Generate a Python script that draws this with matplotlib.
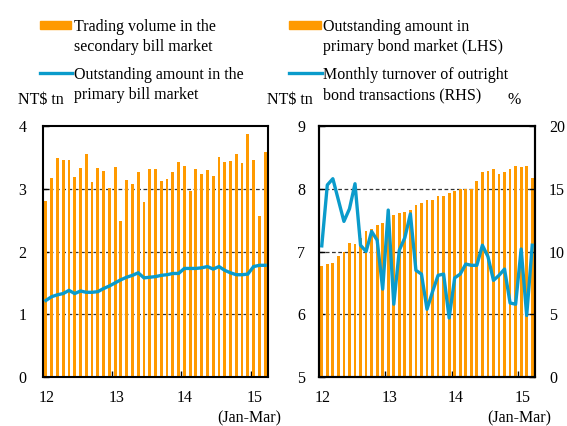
import matplotlib
matplotlib.use("Agg")
import matplotlib.pyplot as plt
from matplotlib.patches import Rectangle
from matplotlib.lines import Line2D
import numpy as np

plt.rcParams['font.family'] = ['Liberation Serif', 'DejaVu Serif']
FS = 11.5

# Monthly data, Jan 2012 - Mar 2015 (39 months)
bill_trading = [2.80, 3.17, 3.49, 3.46, 3.46, 3.19, 3.33, 3.56, 3.10, 3.33,
                3.28, 3.01, 3.35, 2.48, 3.14, 3.08, 3.27, 2.79, 3.32, 3.32,
                3.13, 3.15, 3.26, 3.43, 3.37, 2.97, 3.32, 3.24, 3.30, 3.21,
                3.51, 3.43, 3.44, 3.56, 3.41, 3.87, 3.46, 2.57, 3.59]
bill_outstanding = [1.22, 1.28, 1.31, 1.33, 1.38, 1.33, 1.37, 1.35, 1.35, 1.36,
                    1.41, 1.45, 1.50, 1.55, 1.59, 1.62, 1.66, 1.58, 1.59, 1.60,
                    1.62, 1.63, 1.65, 1.65, 1.73, 1.73, 1.73, 1.74, 1.76, 1.72,
                    1.76, 1.70, 1.66, 1.63, 1.63, 1.64, 1.76, 1.78, 1.78]
bond_outstanding = [6.77, 6.80, 6.82, 6.93, 7.00, 7.14, 7.12, 7.22, 7.32, 7.36,
                    7.43, 7.45, 7.52, 7.58, 7.62, 7.63, 7.66, 7.74, 7.77, 7.82,
                    7.82, 7.89, 7.89, 7.93, 7.97, 7.99, 7.99, 7.99, 8.12, 8.26,
                    8.28, 8.31, 8.23, 8.27, 8.31, 8.36, 8.35, 8.37, 8.17]
bond_turnover = [10.45, 15.3, 15.8, 14.1, 12.4, 13.4, 15.4, 10.5, 10.0, 11.6,
                 10.9, 7.0, 13.3, 5.8, 10.1, 11.1, 13.0, 8.5, 8.2, 5.4,
                 6.8, 8.1, 8.2, 4.7, 7.9, 8.2, 9.0, 8.9, 8.9, 10.5,
                 9.6, 7.7, 8.1, 8.6, 5.9, 5.8, 10.2, 4.9, 10.5]
year_labels = ['12', '13', '14', '15']

ORANGE = '#FF9A00'
BLUE = '#0A9BCB'
W, H = 567, 426

fig = plt.figure(figsize=(W / 100, H / 100), dpi=100)

def frac(x0, y_top, x1, y_bot):
    return [x0 / W, 1 - y_bot / H, (x1 - x0) / W, (y_bot - y_top) / H]

x = np.arange(len(bill_trading))

def style_axes(ax):
    for s in ax.spines.values():
        s.set_color('black')
        s.set_linewidth(1.5)
    ax.set_xlim(-0.5, len(x) - 0.5)
    ax.set_xticks([-0.5, 11.5, 23.5, 35.5])
    ax.set_xticklabels([])
    ax.set_xticks([0.2, 12.3, 24.1, 36.2], minor=True)
    ax.set_xticklabels(year_labels, minor=True)
    ax.tick_params(axis='x', which='major', direction='in', length=4, width=1)
    ax.tick_params(axis='x', which='minor', length=0, pad=9, labelsize=FS)
    ax.tick_params(axis='y', direction='in', length=4, width=1, labelsize=FS)

# Left panel
ax1 = fig.add_axes(frac(43, 126, 268, 377))
ax1.bar(x, bill_trading, width=0.5, color=ORANGE, zorder=2)
ax1.plot(x, bill_outstanding, color=BLUE, lw=2.4, zorder=3, solid_joinstyle='miter')
ax1.set_ylim(0, 4)
ax1.set_yticks([0, 1, 2, 3, 4])
for v in [1, 2, 3]:
    ax1.axhline(v, color='#333333', lw=0.9, ls=(0, (3, 2)), zorder=1)
style_axes(ax1)
ax1.tick_params(axis='y', pad=12)

# Right panel
ax2 = fig.add_axes(frac(319, 126, 535, 377))
ax2.bar(x, bond_outstanding, width=0.5, color=ORANGE, zorder=2)
ax2.set_ylim(5, 9)
ax2.set_yticks([5, 6, 7, 8, 9])
for v in [6, 7, 8]:
    ax2.axhline(v, color='#333333', lw=0.9, ls=(0, (3, 2)), zorder=1)
style_axes(ax2)
ax2.tick_params(axis='y', pad=10)
ax3 = ax2.twinx()
ax3.plot(x, bond_turnover, color=BLUE, lw=2.4, zorder=3)
ax3.set_ylim(0, 20)
ax3.set_yticks([0, 5, 10, 15, 20])
ax3.tick_params(axis='y', direction='in', length=4, width=1, labelsize=FS, pad=10)
for s in ax3.spines.values():
    s.set_linewidth(1.5)
    s.set_color('black')

# Unit labels and period notes
def ftext(px, py, s, **kw):
    fig.text(px / W, 1 - py / H, s, fontsize=FS, **kw)

ftext(41, 100, 'NT$ tn', ha='center', va='center')
ftext(290, 100, 'NT$ tn', ha='center', va='center')
ftext(514, 100, '%', ha='center', va='center')
ftext(249, 418, '(Jan-Mar)', ha='center', va='center')
ftext(519, 418, '(Jan-Mar)', ha='center', va='center')

# Legends (drawn in figure coordinates)
def legend_entry(px0, px1, py, kind, lines, tx):
    if kind == 'bar':
        fig.patches.append(Rectangle((px0 / W, 1 - (py + 4) / H), (px1 - px0) / W, 8 / H,
                                     transform=fig.transFigure, color=ORANGE))
    else:
        fig.lines.append(Line2D([px0 / W, px1 / W], [1 - py / H, 1 - py / H],
                                transform=fig.transFigure, color=BLUE, lw=2.4))
    for k, s in enumerate(lines):
        ftext(tx, py + 6 + 20 * k, s, ha='left', va='baseline')

legend_entry(40, 71, 25, 'bar', ['Trading volume in the', 'secondary bill market'], 74)
legend_entry(40, 72, 73, 'line', ['Outstanding amount in the', 'primary bill market'], 74)
legend_entry(289, 321, 25, 'bar', ['Outstanding amount in', 'primary bond market (LHS)'], 323)
legend_entry(289, 322, 73, 'line', ['Monthly turnover of outright', 'bond transactions (RHS)'], 323)

fig.savefig('out.png', dpi=100)
